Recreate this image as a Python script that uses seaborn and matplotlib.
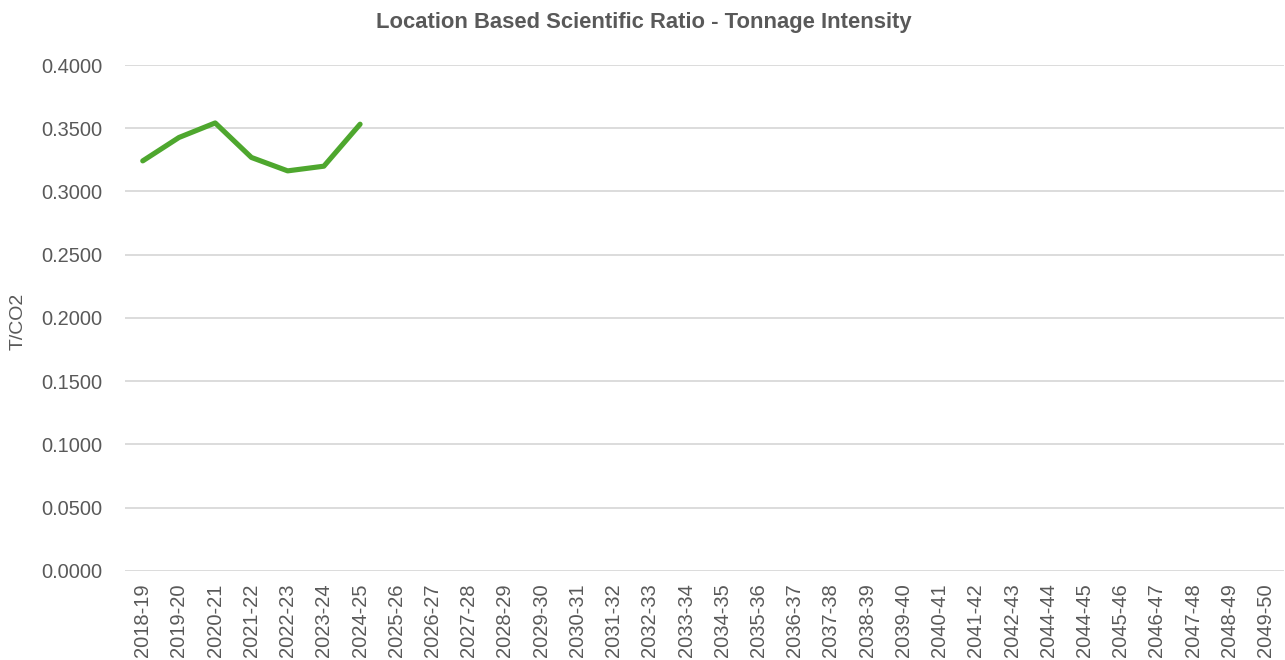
import matplotlib.pyplot as plt
import numpy as np
import pandas as pd
import seaborn as sns

# Data
periods = [
    "2018-19", "2019-20", "2020-21", "2021-22", "2022-23", "2023-24", "2024-25",
    "2025-26", "2026-27", "2027-28", "2028-29", "2029-30", "2030-31", "2031-32",
    "2032-33", "2033-34", "2034-35", "2035-36", "2036-37", "2037-38", "2038-39",
    "2039-40", "2040-41", "2041-42", "2042-43", "2044-44", "2044-45", "2045-46",
    "2046-47", "2047-48", "2048-49", "2049-50",
]
intensity = [0.3242, 0.3427, 0.3542, 0.3269, 0.3163, 0.3200, 0.3532]
y_ticks = [0.0, 0.05, 0.10, 0.15, 0.20, 0.25, 0.30, 0.35, 0.40]

df = pd.DataFrame({"pos": np.arange(len(intensity)), "intensity": intensity})

sns.set_style("white")
plt.rcParams["font.family"] = ["Liberation Sans", "DejaVu Sans"]
grey = "#595959"

fig, ax = plt.subplots(figsize=(12.85, 6.6), dpi=100)
fig.subplots_adjust(left=0.097, right=0.999, top=0.9015, bottom=0.135)

sns.lineplot(data=df, x="pos", y="intensity", ax=ax, color="#4EA72E",
             linewidth=3.7, solid_capstyle="round", zorder=3)

ax.set_xlim(-0.5, len(periods) - 0.5)
ax.set_ylim(0, 0.4)
ax.set_xticks(range(len(periods)))
ax.set_xticklabels(periods, rotation=90, fontsize=14.5, color=grey)
ax.set_yticks(y_ticks)
ax.set_yticklabels([f"{v:.4f}" for v in y_ticks], fontsize=14.4, color=grey)
ax.tick_params(axis="x", length=0, pad=9)
ax.tick_params(axis="y", length=0, pad=16)

ax.yaxis.grid(True, color="#d9d9d9", linewidth=1.3)
ax.set_axisbelow(True)
for s in ax.spines.values():
    s.set_visible(False)

ax.set_xlabel("")
ax.set_ylabel("T/CO2", fontsize=14, color=grey)
ax.yaxis.set_label_coords(-0.0845, 0.494)
ax.set_title("Location Based Scientific Ratio - Tonnage Intensity",
             fontsize=15.8, fontweight="bold", color=grey, pad=27, x=0.448)

plt.savefig("out.png", dpi=100)
